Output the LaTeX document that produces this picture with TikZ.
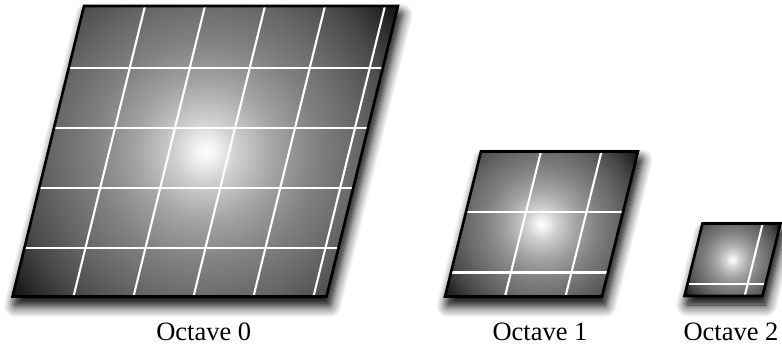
\documentclass[tikz,border=0pt]{standalone}
\usepackage{fontspec}
\setmainfont{Liberation Serif}
\usetikzlibrary{shadows.blur}
\pgfdeclareradialshading{octshade}{\pgfpoint{0bp}{0bp}}{color(0bp)=(white); color(1.5bp)=(black!8); color(3bp)=(black!18); color(7bp)=(black!36); color(11bp)=(black!49); color(15.5bp)=(black!60); color(19.5bp)=(black!72); color(22.5bp)=(black!85); color(25bp)=(black!97); color(50bp)=(black)}
\tikzset{
  gridline/.style={white, line width=2.1pt},
  border/.style={black, line width=2.6pt, line join=miter},
  octlabel/.style={font=\fontsize{26.5}{30}\selectfont, anchor=base, inner sep=0pt},
  softshadow/.style={blur shadow={shadow xshift=3pt, shadow yshift=-9pt, shadow blur radius=12pt, shadow opacity=100, shadow blur steps=18}},
  tightshadow/.style={blur shadow={shadow xshift=2pt, shadow yshift=-6pt, shadow blur radius=6pt, shadow opacity=45, shadow blur steps=10}}
}
% #1 TLx, #2 TLy, #3 width, #4 height, #5 slant, #6 name, #7 vertical offsets, #8 horizontal offsets, #9 label
\newcommand\octave[9]{%
  \coordinate (#6tl) at (#1,#2);
  \coordinate (#6tr) at (#1+#3,#2);
  \coordinate (#6br) at (#1+#3-#5,#2+#4);
  \coordinate (#6bl) at (#1-#5,#2+#4);
  \coordinate (#6c) at (#1+#3/2-#5/2,#2+#4/2);
  \pgfmathsetmacro\octR{103*veclen((#3+#5)/200,#4/200)}
  \pgfmathsetmacro\octS{#5/#4}
  \path[softshadow] (#6tl) -- (#6tr) -- (#6br) -- (#6bl) -- cycle;
  \path[tightshadow] (#6tl) -- (#6tr) -- (#6br) -- (#6bl) -- cycle;
  \begin{scope}
    \clip (#6tl) -- (#6tr) -- (#6br) -- (#6bl) -- cycle;
    \shade[shading=octshade] (#6c) circle (\octR);
    \foreach \u in {#7} \draw[gridline] (#1+\u+\octS*4,#2-4) -- (#1-#5+\u-\octS*4,#2+#4+4);
    \foreach \v in {#8} \draw[gridline] (#1-\octS*\v-4,#2+\v) -- (#1+#3-\octS*\v+4,#2+\v);
  \end{scope}
  \draw[border] (#6tl) -- (#6tr) -- (#6br) -- (#6bl) -- cycle;
  \node[octlabel] (#6label) at (#1+#3/2-#5/2-1.5,340) {#9};
}
\begin{document}
\begin{tikzpicture}[x=1pt,y=-1pt]
\useasboundingbox (0,0) rectangle (782,348);
\octave{84}{6}{314}{290.5}{71.5}{oA}{61,121,181,241,301}{62,122,182,242}{Octave 0}
\octave{481}{151.5}{157}{145}{36}{oB}{60,120.5}{60.5,121}{Octave 1}
\octave{702.5}{223.5}{78}{72.5}{18}{oC}{60.2}{60.5}{Octave 2}
\end{tikzpicture}
\end{document}
